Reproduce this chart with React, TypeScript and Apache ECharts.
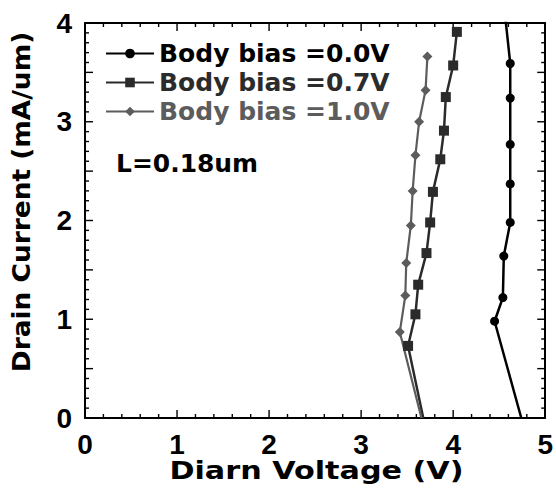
import React, { useEffect, useRef } from "react";
import * as echarts from "echarts";

// ---- data ----
const seriesNames = ["Body bias =0.0V", "Body bias =0.7V", "Body bias =1.0V"];

// Body bias = 0.0 V (drain voltage V, drain current mA/um)
const vd00 = [4.74, 4.45, 4.54, 4.55, 4.62, 4.62, 4.62, 4.62, 4.62, 4.55];
const id00 = [0, 0.98, 1.22, 1.64, 1.98, 2.37, 2.77, 3.24, 3.59, 4.2];

// Body bias = 0.7 V
const vd07 = [3.675, 3.51, 3.59, 3.62, 3.71, 3.75, 3.78, 3.86, 3.9, 3.92, 4.0, 4.04];
const id07 = [0, 0.73, 1.05, 1.35, 1.67, 1.98, 2.29, 2.62, 2.91, 3.25, 3.57, 3.91];

// Body bias = 1.0 V
const vd10 = [3.655, 3.42, 3.48, 3.49, 3.54, 3.56, 3.59, 3.63, 3.7, 3.72];
const id10 = [0, 0.87, 1.24, 1.57, 1.95, 2.3, 2.66, 3.0, 3.32, 3.66];

const xRange = [0, 5];
const yRange = [0, 4];
const xMajorStep = 1;
const xMinorStep = 0.2;
const yMajorStep = 0.5;
const yMinorStep = 0.1;
const annotation = "L=0.18um";
const xTitle = "Diarn Voltage (V)";
const yTitle = "Drain Current (mA/um)";

const colors = ["#000000", "#2b2b2b", "#5c5c5c"];

function buildData(vs: number[], is: number[]) {
  return vs.map((v, k) => {
    const i = is[k];
    // curve end points (on the axis / beyond the frame) carry no marker
    if (i <= yRange[0] || i > yRange[1]) return { value: [v, i], symbol: "none" };
    return [v, i];
  });
}

// tick positions (value, axis 0=x 1=y, major flag)
function tickList(range: number[], minor: number, major: number, axis: number) {
  const out: number[][] = [];
  const n = Math.round((range[1] - range[0]) / minor);
  const every = Math.round(major / minor);
  for (let k = 0; k <= n; k++) {
    out.push([range[0] + k * minor, axis, k % every === 0 ? 1 : 0]);
  }
  return out;
}

const TRACK_FONT = "DejaVu Sans";
const TICK_FONT = "Liberation Sans";

function makeAxis(kind: "x" | "y", position: string, interval: number, label: any) {
  const range = kind === "x" ? xRange : yRange;
  return {
    type: "value",
    position,
    min: range[0],
    max: range[1],
    interval,
    axisLine: { show: true, onZero: false, lineStyle: { color: "#000000", width: 2 } },
    axisTick: { show: false },
    minorTick: { show: false },
    splitLine: { show: false },
    minorSplitLine: { show: false },
    axisLabel: label,
  };
}

export default function App() {
  const ref = useRef<HTMLDivElement>(null);

  useEffect(() => {
    if (!ref.current) return;
    const chart = echarts.init(ref.current, undefined, { renderer: "svg" });

    const tickLabel = {
      show: true,
      color: "#000",
      fontFamily: TICK_FONT,
      fontWeight: "bold",
      fontSize: 28,
    };

    const ticks = [
      ...tickList(xRange, xMinorStep, xMajorStep, 0),
      ...tickList(yRange, yMinorStep, yMajorStep, 1),
    ];

    const option: any = {
      animation: false,
      grid: { left: 85, top: 23, right: 9.5, bottom: 72 },
      xAxis: [
        makeAxis("x", "bottom", 1, { ...tickLabel, margin: 12 }),
        makeAxis("x", "top", 1, { show: false }),
      ],
      yAxis: [
        makeAxis("y", "left", 1, { ...tickLabel, margin: 13 }),
        makeAxis("y", "right", 1, { show: false }),
      ],
      legend: {
        show: true,
        orient: "vertical",
        left: 105,
        top: 41,
        padding: 0,
        itemWidth: 48,
        itemHeight: 12,
        itemGap: 4,
        selectedMode: false,
        textStyle: { fontFamily: TRACK_FONT, fontWeight: "bold", fontSize: 25 },
        data: seriesNames.map((n, k) => ({ name: n, textStyle: { color: colors[k] } })),
      },
      series: [
        {
          name: "ticks",
          type: "custom",
          silent: true,
          xAxisIndex: 0,
          yAxisIndex: 0,
          data: ticks,
          renderItem: (params: any, api: any) => {
            const v = api.value(0);
            const axis = api.value(1);
            const len = api.value(2) ? 8 : 4;
            const st = { stroke: "#000", lineWidth: 1.4 };
            if (axis === 0) {
              const b = api.coord([v, yRange[0]]);
              const t = api.coord([v, yRange[1]]);
              return {
                type: "group",
                children: [
                  { type: "line", shape: { x1: b[0], y1: b[1], x2: b[0], y2: b[1] - len }, style: st },
                  { type: "line", shape: { x1: t[0], y1: t[1], x2: t[0], y2: t[1] + len }, style: st },
                ],
              };
            }
            const l = api.coord([xRange[0], v]);
            const r = api.coord([xRange[1], v]);
            return {
              type: "group",
              children: [
                { type: "line", shape: { x1: l[0], y1: l[1], x2: l[0] + len, y2: l[1] }, style: st },
                { type: "line", shape: { x1: r[0], y1: r[1], x2: r[0] - len, y2: r[1] }, style: st },
              ],
            };
          },
        },
        {
          name: seriesNames[0],
          type: "line",
          data: buildData(vd00, id00),
          symbol: "circle",
          symbolSize: 9,
          showAllSymbol: true,
          clip: true,
          lineStyle: { color: colors[0], width: 2.5 },
          itemStyle: { color: colors[0] },
        },
        {
          name: seriesNames[1],
          type: "line",
          data: buildData(vd07, id07),
          symbol: "rect",
          symbolSize: 10,
          showAllSymbol: true,
          clip: true,
          lineStyle: { color: colors[1], width: 2.5 },
          itemStyle: { color: colors[1] },
        },
        {
          name: seriesNames[2],
          type: "line",
          data: buildData(vd10, id10),
          symbol: "diamond",
          symbolSize: 10,
          showAllSymbol: true,
          clip: true,
          lineStyle: { color: colors[2], width: 2.2 },
          itemStyle: { color: colors[2] },
        },
      ],
      graphic: [
        {
          type: "text",
          x: 116,
          y: 163.5,
          scaleX: 1.04,
          style: {
            text: annotation,
            fill: "#000",
            font: `bold 24px '${TRACK_FONT}'`,
            textAlign: "left",
            textVerticalAlign: "middle",
          },
        },
        {
          type: "text",
          x: 316.5,
          y: 470.5,
          scaleX: 1.26,
          style: {
            text: xTitle,
            fill: "#000",
            font: `bold 24px '${TRACK_FONT}'`,
            textAlign: "center",
            textVerticalAlign: "middle",
          },
        },
        {
          type: "text",
          x: 22,
          y: 202,
          rotation: Math.PI / 2,
          scaleX: 1.1,
          style: {
            text: yTitle,
            fill: "#000",
            font: `bold 24px '${TRACK_FONT}'`,
            textAlign: "center",
            textVerticalAlign: "middle",
          },
        },
      ],
    };

    chart.setOption(option);
    return () => chart.dispose();
  }, []);

  return (
    <div
      ref={ref}
      style={{ position: "absolute", left: 0, top: 0, width: 556, height: 490, background: "#fff" }}
    />
  );
}
